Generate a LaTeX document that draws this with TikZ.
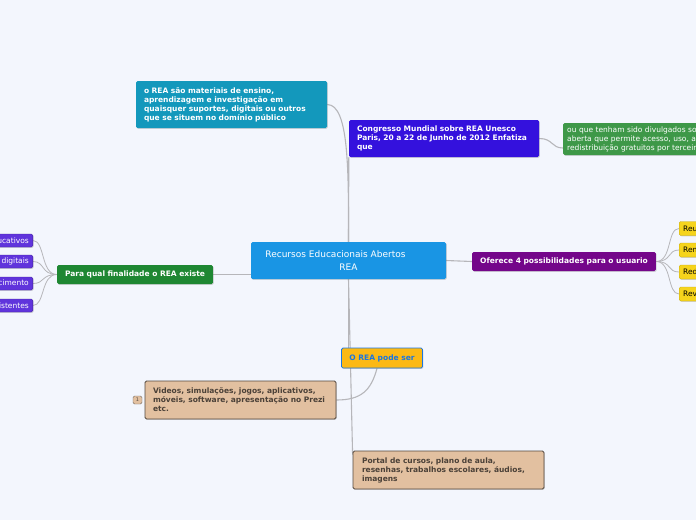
\documentclass[tikz,border=0pt]{standalone}
\usepackage{fontspec}
\setmainfont{DejaVu Sans}
\usetikzlibrary{positioning,shadows,backgrounds,calc}
\definecolor{bgpale}{RGB}{243,246,253}
\definecolor{linkgray}{RGB}{182,182,186}
\definecolor{rootblue}{RGB}{25,149,228}
\definecolor{defteal}{RGB}{19,152,188}
\definecolor{congviolet}{RGB}{52,17,221}
\definecolor{licgreen}{RGB}{62,152,72}
\definecolor{usopurple}{RGB}{116,6,138}
\definecolor{ryellow}{RGB}{246,212,28}
\definecolor{fingreen}{RGB}{30,135,50}
\definecolor{fviolet}{RGB}{96,52,220}
\definecolor{podeyellow}{RGB}{252,185,20}
\definecolor{podeblue}{RGB}{26,118,226}
\definecolor{exbeige}{RGB}{226,192,160}
\definecolor{exbrown}{RGB}{84,72,62}

\begin{document}
\begin{tikzpicture}[x=1pt, y=-1pt,
  font=\fontsize{7.5}{9}\selectfont,
  topic/.style={rectangle, rounded corners=1.5pt, inner xsep=8pt, inner ysep=2pt,
                align=left, text=white, font=\fontsize{7.5}{9}\selectfont\bfseries,
                drop shadow={opacity=0.3, shadow xshift=0.8pt, shadow yshift=-0.9pt}},
  root/.style={topic, fill=rootblue, align=center, font=\fontsize{9}{12.5}\selectfont,
               minimum width=195pt, minimum height=37pt},
  leaf/.style={topic, font=\fontsize{7.5}{9}\selectfont, inner xsep=4pt, minimum height=14pt},
  rbox/.style={leaf, fill=ryellow, draw=ryellow!80!black, text=black, anchor=west,
               text width=52pt},
  fbox/.style={leaf, fill=fviolet, draw=fviolet!70!black, anchor=east, align=right,
               text width=120pt, minimum height=13pt},
  ex/.style={topic, fill=exbeige, draw=exbrown, thick, text=exbrown!90!black,
             text width=175pt, minimum height=38pt},
  link/.style={draw=linkgray, line width=1.1pt}
]
\useasboundingbox (0,0) rectangle (696,520);

\node[root] (ctr) at (348.5,260.5) {Recursos Educacionais Abertos\makebox[26pt]{}\\REA};

\node[topic, fill=defteal, text width=175pt, minimum height=47pt] (def) at (231.5,104.5)
  {o REA são materiais de ensino,\\aprendizagem e investigação em\\quaisquer suportes, digitais ou outros\\que se situem no domínio público};
\node[topic, fill=congviolet, text width=174pt, minimum height=37pt] (cong) at (444,138.5)
  {Congresso Mundial sobre REA Unesco\\Paris, 20 a 22 de Junho de 2012 Enfatiza\\que};
\node[topic, fill=licgreen, font=\fontsize{7.5}{9}\selectfont, inner xsep=4pt,
      text width=200pt, minimum height=32pt, anchor=west] (lic) at (563,139)
  {ou que tenham sido divulgados sob licença\\aberta que permite acesso, uso, adaptação e\\redistribuição gratuitos por terceiros};

\node[topic, fill=usopurple, align=center, minimum width=180pt, minimum height=19pt] (uso) at (564,261.5)
  {Oferece 4 possibilidades para o usuario};
\node[rbox] (r1) at (679,228.5) {Reutilizar};
\node[rbox] (r2) at (679,250) {Remixar};
\node[rbox] (r3) at (679,272) {Redistribuir};
\node[rbox] (r4) at (679,294) {Revisar};

\node[topic, fill=fingreen, align=center, minimum width=154pt, minimum height=19pt] (fin) at (135,274.5)
  {Para qual finalidade o REA existe};
\node[fbox] (f1) at (33,240.5) {Materiais educativos};
\node[fbox] (f2) at (33,261.5) {Recursos digitais};
\node[fbox] (f3) at (33,283.5) {Compartilhar conhecimento};
\node[fbox] (f4) at (33,305.5) {Recursos existentes};

\node[topic, fill=podeyellow, draw=podeblue, thick, text=podeblue, align=center,
      minimum width=80pt, minimum height=20pt] (pode) at (382,358) {O REA pode ser};
\node[ex] (vid) at (240.5,400)
  {Videos, simulações, jogos, aplicativos,\\móveis, software, apresentação no Prezi\\etc.};
\node[rectangle, rounded corners=1.5pt, fill=exbeige, draw=exbrown!80, inner sep=0pt,
      minimum width=9pt, minimum height=8pt, text=exbrown, font=\fontsize{5}{5}\selectfont] (badge) at (137.5,400) {1};
\node[ex, inner xsep=9pt, text width=173pt] (port) at (448.5,470)
  {Portal de cursos, plano de aula,\\resenhas, trabalhos escolares, áudios,\\imagens};

\begin{pgfonlayer}{background}
  \fill[bgpale] (0,0) rectangle (696,520);
  \draw[link] (ctr.north) .. controls +(0,-70) and +(22,0) .. (def.east);
  \draw[link] (ctr.north) -- (cong.south west);
  \draw[link] (cong.east) .. controls +(14,0) and +(-12,0) .. ([yshift=-9pt]lic.west);
  \draw[link] (ctr.east) -- (uso.west);
  \foreach \n in {r1,r2,r3,r4}
    \draw[link, line width=0.8pt] (uso.east) .. controls +(16,0) and +(-12,0) .. (\n.west);
  \draw[link] (fin.east) -- (fin.east -| ctr.west);
  \foreach \n in {f1,f2,f3,f4}
    \draw[link, line width=0.8pt] (fin.west) .. controls +(-16,0) and +(12,0) .. (\n.east);
  \draw[link] (ctr.south) -- ([yshift=-4pt]port.north west);
  \draw[link] (ctr.south) -- (ctr.south |- pode.north);
  \draw[link] ([xshift=-5pt]pode.south) .. controls +(-6,22) and +(25,0) .. (vid.east);
\end{pgfonlayer}
\end{tikzpicture}
\end{document}
